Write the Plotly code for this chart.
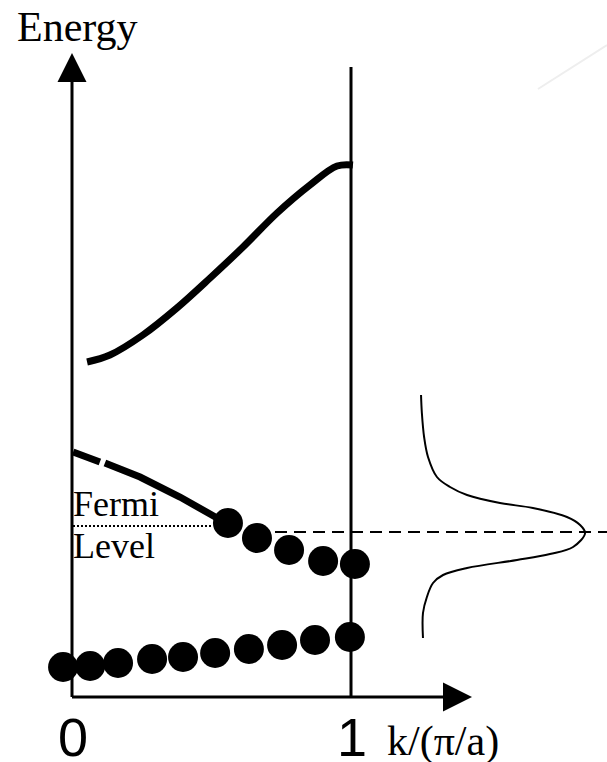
import plotly.graph_objects as go

# ---------------- data (k in units of pi/a, Energy in arbitrary units) ----------------
upper_k = [0.054, 0.136, 0.254, 0.376, 0.495, 0.613, 0.735, 0.853, 0.950, 1.007]
upper_E = [3.35, 3.42, 3.62, 3.89, 4.19, 4.50, 4.84, 5.12, 5.31, 5.32]

middle_k = [0.004, 0.100, None, 0.118, 0.244, 0.387, 0.520]
middle_E = [2.45, 2.35, None, 2.34, 2.20, 2.00, 1.79]

middle_dots_k = [0.559, 0.663, 0.778, 0.900, 1.014]
middle_dots_E = [1.74, 1.59, 1.47, 1.36, 1.33]

lower_dots_k = [-0.032, 0.065, 0.165, 0.287, 0.398, 0.513, 0.634, 0.753, 0.871, 0.996]
lower_dots_E = [0.30, 0.31, 0.34, 0.38, 0.40, 0.44, 0.48, 0.52, 0.57, 0.60]

fermi_E = 1.71          # dotted Fermi level (left)
fermi_dash_E = 1.65     # dashed level (right)

# distribution curve on the right (horizontal position, energy)
dist_x = [1.251, 1.254, 1.262, 1.276, 1.308, 1.355, 1.416, 1.534, 1.652, 1.774, 1.821, 1.839,
          1.796, 1.713, 1.595, 1.416, 1.330, 1.294, 1.272, 1.258, 1.258]
dist_E = [3.02, 2.84, 2.60, 2.40, 2.20, 2.10, 2.02, 1.94, 1.89, 1.80, 1.72, 1.64,
          1.50, 1.43, 1.37, 1.29, 1.22, 1.14, 1.00, 0.84, 0.59]

x_ticks = [0, 1]
x_tick_labels = ["0", "1"]
x_title = "k/(π/a)"
y_title = "Energy"

# ---------------- layout helpers ----------------
W, H = 607, 762
X0, XS = 72.0, 279.0     # pixel of k=0, pixels per unit k
Y0, YS = 697.0, 100.0    # pixel of E=0, pixels per unit E


def kx(px):
    return (px - X0) / XS


def ey(py):
    return (Y0 - py) / YS


xr = [kx(0), kx(W)]
yr = [ey(H), ey(0)]

SERIF = "Liberation Serif, Times New Roman, serif"
SANS = "Liberation Sans, Arial, sans-serif"

fig = go.Figure()

# bands
fig.add_trace(go.Scatter(x=upper_k, y=upper_E, mode="lines", line_shape="spline",
                         line=dict(color="black", width=7), hoverinfo="skip"))
fig.add_trace(go.Scatter(x=middle_k, y=middle_E, mode="lines",
                         line=dict(color="black", width=7), connectgaps=False, hoverinfo="skip"))

# Fermi level lines
fig.add_trace(go.Scatter(x=[kx(73), kx(213)], y=[fermi_E, fermi_E], mode="lines",
                         line=dict(color="black", width=2, dash="2px,2px"), hoverinfo="skip"))
fig.add_trace(go.Scatter(x=[kx(275), kx(607)], y=[fermi_dash_E, fermi_dash_E], mode="lines",
                         line=dict(color="black", width=2, dash="12px,7px"), hoverinfo="skip"))

# distribution curve
fig.add_trace(go.Scatter(x=dist_x, y=dist_E, mode="lines", line_shape="spline",
                         line=dict(color="black", width=2), hoverinfo="skip"))

# electrons
fig.add_trace(go.Scatter(x=middle_dots_k, y=middle_dots_E, mode="markers",
                         marker=dict(color="black", size=30, line=dict(width=0)), hoverinfo="skip"))
fig.add_trace(go.Scatter(x=lower_dots_k, y=lower_dots_E, mode="markers",
                         marker=dict(color="black", size=30, line=dict(width=0)), hoverinfo="skip"))

shapes = []
# vertical energy axis
shapes.append(dict(type="line", x0=0, x1=0, y0=0, y1=ey(82), line=dict(color="black", width=3)))
shapes.append(dict(type="path",
                   path=f"M {kx(57.5)} {ey(82)} L {kx(86.5)} {ey(82)} L {0} {ey(53)} Z",
                   fillcolor="black", line=dict(width=0)))
# horizontal k axis
shapes.append(dict(type="line", x0=0, x1=kx(443), y0=0, y1=0, line=dict(color="black", width=3)))
shapes.append(dict(type="path",
                   path=f"M {kx(443)} {ey(682.5)} L {kx(443)} {ey(711.5)} L {kx(472)} {0} Z",
                   fillcolor="black", line=dict(width=0)))
# zone boundary k = 1
shapes.append(dict(type="line", x0=1, x1=1, y0=0, y1=ey(67), line=dict(color="black", width=3)))
# faint artifact line top right
shapes.append(dict(type="line", x0=kx(538), x1=kx(607), y0=ey(89), y1=ey(45),
                   line=dict(color="#eeeeee", width=2)))
for s in shapes:
    s["xref"] = "x"
    s["yref"] = "y"
    s["layer"] = "below"

annotations = [
    dict(x=kx(77), y=ey(27), text=y_title, font=dict(family=SERIF, size=42, color="black"),
         xanchor="center", yanchor="middle"),
    dict(x=kx(71), y=ey(504), text="Fermi", font=dict(family=SERIF, size=36, color="black"),
         xanchor="left", yanchor="middle"),
    dict(x=kx(71), y=ey(546), text="Level", font=dict(family=SERIF, size=36, color="black"),
         xanchor="left", yanchor="middle"),
    dict(x=kx(385), y=ey(741), text=x_title, font=dict(family=SERIF, size=42, color="black"),
         xanchor="left", yanchor="middle"),
]
for t, lab in zip(x_ticks, x_tick_labels):
    annotations.append(dict(x=kx(73) if t == 0 else kx(352), y=ey(737), text=lab,
                            font=dict(family=SANS, size=54, color="black"),
                            xanchor="center", yanchor="middle"))
for a in annotations:
    a["xref"] = "x"
    a["yref"] = "y"
    a["showarrow"] = False

fig.update_layout(
    width=W, height=H,
    margin=dict(l=0, r=0, t=0, b=0),
    paper_bgcolor="white", plot_bgcolor="white",
    showlegend=False,
    xaxis=dict(range=xr, visible=False, fixedrange=True),
    yaxis=dict(range=yr, visible=False, fixedrange=True),
    shapes=shapes,
    annotations=annotations,
)

fig.write_html("out.html", config=dict(displayModeBar=False),
               post_script="document.body.style.margin='0';document.body.style.overflow='hidden';")
